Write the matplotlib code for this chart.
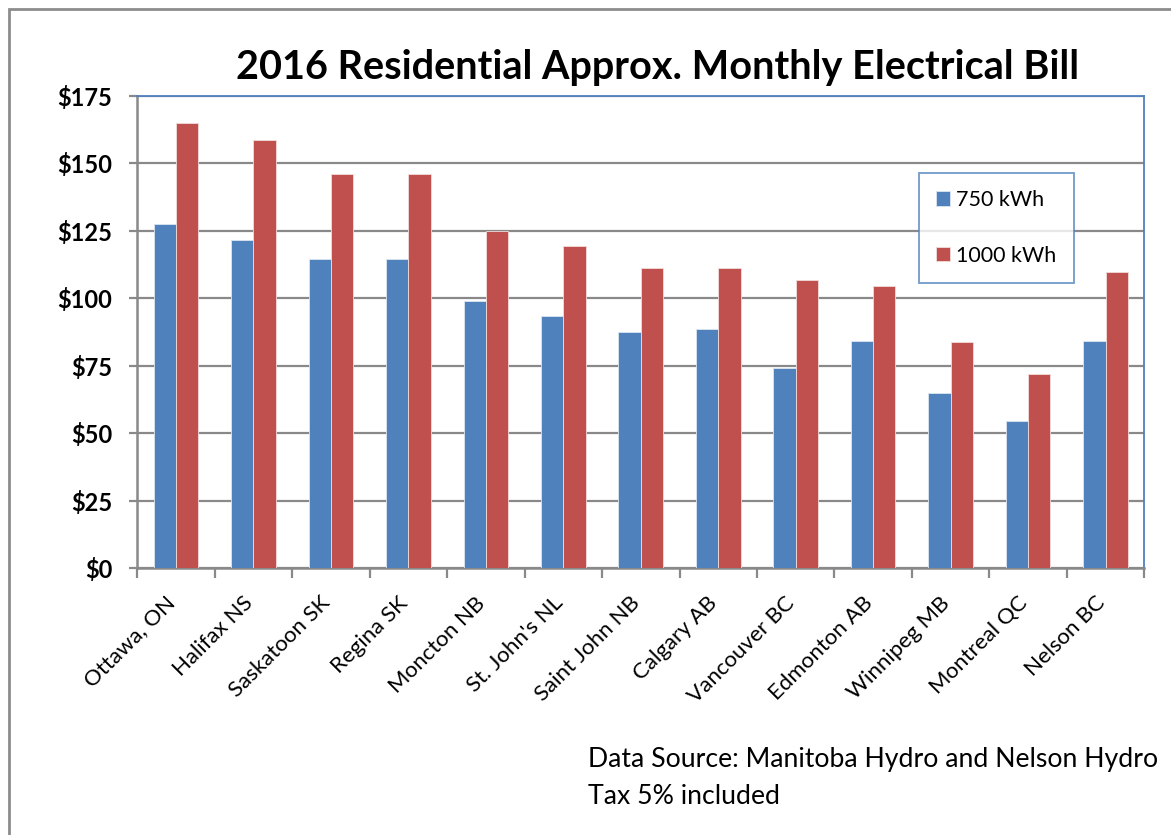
import numpy as np
import matplotlib.pyplot as plt
from matplotlib.patches import Rectangle
from matplotlib.ticker import FixedLocator
from matplotlib.transforms import ScaledTranslation

cities = ["Ottawa, ON", "Halifax NS", "Saskatoon SK", "Regina SK", "Moncton NB",
          "St. John's NL", "Saint John NB", "Calgary AB", "Vancouver BC",
          "Edmonton AB", "Winnipeg MB", "Montreal QC", "Nelson BC"]
bill_750 = [127.5, 121.5, 114.7, 114.6, 98.9, 93.4, 87.6, 88.5, 74.3, 84.3, 64.8, 54.7, 84.1]
bill_1000 = [165.1, 158.6, 146.2, 146.2, 125.0, 119.5, 111.4, 111.4, 106.7, 104.7, 84.0, 72.0, 109.7]
yticks = [0, 25, 50, 75, 100, 125, 150, 175]
ytick_labels = ["$0", "$25", "$50", "$75", "$100", "$125", "$150", "$175"]

blue = "#4F81BD"
red = "#C0504D"
grid = "#898989"

plt.rcParams['font.family'] = ['Lato', 'DejaVu Sans']

fig = plt.figure(figsize=(11.71, 8.35), dpi=100)
ax = fig.add_axes([137.3 / 1171, 1 - 568.3 / 835, (1144.3 - 137.3) / 1171, (568.3 - 96) / 835])

# cadre gris autour du graphique (ouvert à droite et en bas)
fig.patches.append(Rectangle((9 / 1171, -0.05), 1.1, 1.05 - 9 / 835, transform=fig.transFigure,
                             fill=False, edgecolor="#8c8c8c", linewidth=2))

x = np.arange(len(cities))
w = 0.288
ax.bar(x - w / 2, bill_750, w, color=blue, edgecolor="#dce6f1", linewidth=0.6, label="750 kWh", zorder=3)
ax.bar(x + w / 2, bill_1000, w, color=red, edgecolor="#f2dcdb", linewidth=0.6, label="1000 kWh", zorder=3)

ax.set_xlim(-0.5, len(cities) - 0.5)
ax.set_ylim(0, 175)
ax.set_yticks(yticks)
ax.set_yticklabels(ytick_labels, fontsize=17, fontweight="bold")
ax.yaxis.grid(True, color=grid, linewidth=1.6, zorder=0)

ax.set_xticks(x)
ax.set_xticklabels(cities, rotation=45, ha="right", rotation_mode="anchor", fontsize=16)
ax.tick_params(axis="x", length=0, pad=12)
for lab in ax.get_xticklabels():
    lab.set_transform(lab.get_transform() + ScaledTranslation(-0.11, -0.08, fig.dpi_scale_trans))
ax.xaxis.set_minor_locator(FixedLocator(np.arange(-0.5, len(cities), 1)))
ax.tick_params(axis="x", which="minor", length=7, width=1.6, color=grid)
ax.tick_params(axis="y", length=6, width=1.6, color=grid, pad=12)

for s in ["left", "bottom"]:
    ax.spines[s].set_color(grid)
    ax.spines[s].set_linewidth(1.8)
for s in ["top", "right"]:
    ax.spines[s].set_color(blue)
    ax.spines[s].set_linewidth(1.3)

leg = ax.legend(loc="upper left", bbox_to_anchor=((918.7 - 137.3) / 1007, 1 - (172.7 - 96) / 472.3),
                fontsize=15.5, frameon=True, fancybox=False, handlelength=0.65, handleheight=0.65,
                handletextpad=0.3, labelspacing=1.67, borderpad=0.8, borderaxespad=0)
leg.get_frame().set_edgecolor(blue)
leg.get_frame().set_linewidth(1.3)

fig.text(658 / 1171, 1 - 68 / 835, "2016 Residential Approx. Monthly Electrical Bill",
         ha="center", va="center", fontsize=28.5, fontweight="bold")
fig.text(588 / 1171, 1 - 760 / 835, "Data Source: Manitoba Hydro and Nelson Hydro",
         ha="left", va="center", fontsize=19.2)
fig.text(588 / 1171, 1 - 797 / 835, "Tax 5% included", ha="left", va="center", fontsize=19.2)

fig.savefig("out.png", dpi=100)
